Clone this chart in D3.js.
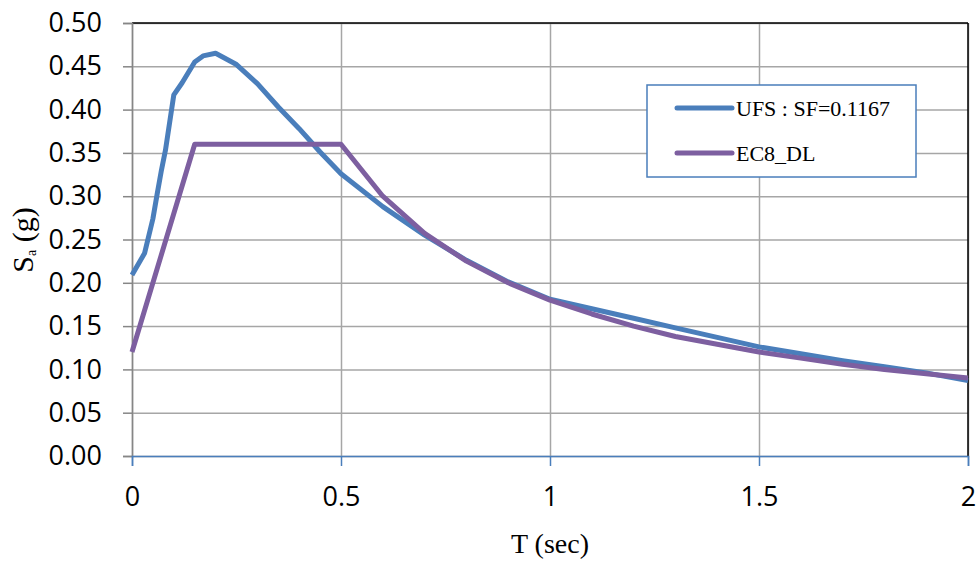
<!DOCTYPE html>
<html>
<head>
<meta charset="utf-8">
<script src="https://cdn.jsdelivr.net/npm/d3@7"></script>
<style>
  body { margin: 0; background: #fff; }
  svg { display: block; }
</style>
</head>
<body>
<svg id="chart" width="980" height="563"></svg>
<script>
// periods (sec) and spectral accelerations (g)
const ufsT  = [0, 0.03, 0.05, 0.06, 0.07, 0.08, 0.1, 0.12, 0.15, 0.17, 0.2, 0.25, 0.3, 0.35, 0.4, 0.45, 0.5, 0.6, 0.7, 0.8, 0.9, 1.0, 1.1, 1.2, 1.3, 1.4, 1.5, 1.6, 1.7, 1.8, 1.9, 2.0];
const ufsSa = [0.209, 0.234, 0.274, 0.302, 0.329, 0.353, 0.417, 0.431, 0.455, 0.462, 0.465, 0.452, 0.430, 0.403, 0.378, 0.351, 0.326, 0.288, 0.255, 0.226, 0.201, 0.181, 0.170, 0.159, 0.148, 0.137, 0.126, 0.118, 0.110, 0.103, 0.096, 0.087];

const ec8T  = [0, 0.15, 0.5, 0.6, 0.7, 0.8, 0.9, 1.0, 1.1, 1.2, 1.3, 1.4, 1.5, 1.6, 1.7, 1.8, 1.9, 2.0];
const ec8Sa = [0.12, 0.36, 0.36, 0.30, 0.257, 0.225, 0.20, 0.18, 0.164, 0.15, 0.138, 0.129, 0.12, 0.113, 0.106, 0.10, 0.095, 0.09];

const xTicks = [0, 0.5, 1, 1.5, 2];
const yTicks = [0, 0.05, 0.1, 0.15, 0.2, 0.25, 0.3, 0.35, 0.4, 0.45, 0.5];

const series = [
    { name: "UFS : SF=0.1167", t: ufsT, sa: ufsSa, color: "#4a7ebb" },
    { name: "EC8_DL", t: ec8T, sa: ec8Sa, color: "#7d5fa0" }
];

const svg = d3.select("#chart");
const margin = { left: 132, top: 23, right: 12, bottom: 107 };
const width = 980 - margin.left - margin.right;
const height = 563 - margin.top - margin.bottom;

const xScale = d3.scaleLinear().domain([0, 2]).range([0, width]);
const yScale = d3.scaleLinear().domain([0, 0.5]).range([height, 0]);

const g = svg.append("g").attr("transform", `translate(${margin.left},${margin.top})`);

// gridlines
g.append("g")
    .attr("class", "grid-y")
    .call(d3.axisLeft(yScale).tickValues(yTicks).tickSize(-width).tickFormat(""))
    .call(s => s.select(".domain").remove())
    .selectAll("line").attr("stroke", "#a6a6a6").attr("stroke-width", 1.5);

g.append("g")
    .attr("class", "grid-x")
    .attr("transform", `translate(0,${height})`)
    .call(d3.axisBottom(xScale).tickValues(xTicks).tickSize(-height).tickFormat(""))
    .call(s => s.select(".domain").remove())
    .selectAll("line").attr("stroke", "#a6a6a6").attr("stroke-width", 1.5);

// plot border top / right
g.append("line").attr("x1", 0).attr("x2", width).attr("y1", 0).attr("y2", 0)
    .attr("stroke", "#000").attr("stroke-width", 1.5);
g.append("line").attr("x1", width).attr("x2", width).attr("y1", 0).attr("y2", height)
    .attr("stroke", "#000").attr("stroke-width", 1.5);

// y axis
const yAxis = g.append("g")
    .call(d3.axisLeft(yScale).tickValues(yTicks).tickSize(9).tickPadding(21).tickFormat(d3.format(".2f")));
yAxis.select(".domain").attr("stroke", "#868686").attr("stroke-width", 1.5);
yAxis.selectAll(".tick line").attr("stroke", "#868686").attr("stroke-width", 1.5);
yAxis.selectAll("text")
    .attr("fill", "#000")
    .style("font-family", "'Open Sans', sans-serif")
    .style("font-size", "27px");

// x axis
const xAxis = g.append("g")
    .attr("transform", `translate(0,${height})`)
    .call(d3.axisBottom(xScale).tickValues(xTicks).tickSize(10).tickPadding(21).tickFormat(d3.format("")));
xAxis.select(".domain").attr("stroke", "#4a7ebb").attr("stroke-width", 1.5);
xAxis.selectAll(".tick line").attr("stroke", "#4a7ebb").attr("stroke-width", 1.5);
xAxis.selectAll("text")
    .attr("fill", "#000")
    .style("font-family", "'Open Sans', sans-serif")
    .style("font-size", "27px");

// lines
const line = d3.line()
    .x(d => xScale(d[0]))
    .y(d => yScale(d[1]));

g.selectAll(".series")
    .data(series)
    .enter()
    .append("path")
    .attr("class", "series")
    .attr("d", d => line(d.t.map((t, i) => [t, d.sa[i]])))
    .attr("fill", "none")
    .attr("stroke", d => d.color)
    .attr("stroke-width", 5)
    .attr("stroke-linejoin", "round");

// axis titles
svg.append("text")
    .attr("x", 550)
    .attr("y", 553)
    .attr("text-anchor", "middle")
    .style("font-family", "'Liberation Serif', 'Times New Roman', serif")
    .style("font-size", "28px")
    .text("T (sec)");

const yTitle = svg.append("text")
    .attr("transform", "translate(33,240) rotate(-90)")
    .attr("text-anchor", "middle")
    .style("font-family", "'Liberation Serif', 'Times New Roman', serif")
    .style("font-size", "30px");
yTitle.append("tspan").text("S");
yTitle.append("tspan").attr("dy", 3).style("font-size", "14px").text("a");
yTitle.append("tspan").attr("dy", -3).text(" (g)");

// legend
const legend = svg.append("g").attr("transform", "translate(647,85)");
legend.append("rect")
    .attr("width", 269).attr("height", 92)
    .attr("fill", "#fff")
    .attr("stroke", "#4a7ebb").attr("stroke-width", 1.5);

const items = legend.selectAll(".item")
    .data(series)
    .enter()
    .append("g")
    .attr("class", "item")
    .attr("transform", (d, i) => `translate(0,${23 + i * 45})`);

items.append("line")
    .attr("x1", 30).attr("x2", 85)
    .attr("stroke", d => d.color)
    .attr("stroke-width", 5)
    .attr("stroke-linecap", "round");

items.append("text")
    .attr("x", 89)
    .attr("y", 8)
    .style("font-family", "'Liberation Serif', 'Times New Roman', serif")
    .style("font-size", "22px")
    .text(d => d.name);
</script>
</body>
</html>
